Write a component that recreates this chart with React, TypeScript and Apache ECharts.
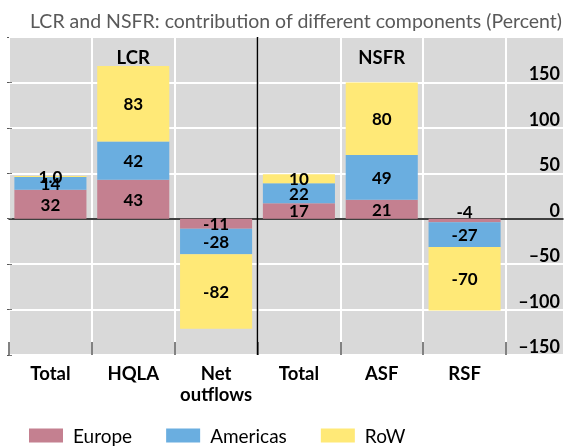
import React, { useEffect, useRef } from "react";
import * as echarts from "echarts";

const categories = ["Total", "HQLA", "Net\noutflows", "Total", "ASF", "RSF"];
const groupLabels = ["", "LCR", "", "", "NSFR", ""];
const europe = [32, 43, -11, 17, 21, -4];
const americas = [14, 42, -28, 22, 49, -27];
const rowValues = [1, 83, -82, 10, 80, -70];
const rowLabels = ["1.0", "83", "-82", "10", "80", "-70"];

const FONT = "Lato, 'Open Sans', sans-serif";
const GRID_TOP = 37;
const GRID_H = 318;

export default function App() {
  const ref = useRef<HTMLDivElement>(null);
  useEffect(() => {
    if (!ref.current) return;
    const chart = echarts.init(ref.current, undefined, { renderer: "svg" });
    const labelBase = {
      show: true,
      position: "inside",
      color: "#000",
      fontSize: 17,
      fontWeight: "bold",
      fontFamily: FONT,
    };
    const option: any = {
      animation: false,
      textStyle: { fontFamily: FONT },
      title: {
        text: "LCR and NSFR: contribution of different components (Percent)",
        left: 25,
        top: 5,
        textStyle: { fontSize: 19.5, fontWeight: "normal", color: "#595959", fontFamily: FONT },
      },
      legend: {
        left: 29,
        top: 426,
        padding: 0,
        itemWidth: 34,
        itemHeight: 14,
        itemGap: 34,
        icon: "rect",
        textStyle: { fontSize: 19, color: "#000", fontFamily: FONT, padding: [0, 0, 0, 5] },
        data: ["Europe", "Americas", "RoW"],
      },
      grid: [
        { left: 9, top: GRID_TOP, width: 497, height: GRID_H, containLabel: false },
        {
          left: 9,
          top: GRID_TOP,
          width: 554,
          height: GRID_H,
          show: true,
          backgroundColor: "#d9d9d9",
          borderWidth: 0,
          z: -1,
        },
      ],
      xAxis: [
        {
          type: "category",
          gridIndex: 0,
          data: categories,
          position: "bottom",
          axisLine: { show: false, onZero: false },
          axisTick: {
            show: true,
            inside: true,
            length: 13,
            interval: 0,
            lineStyle: { color: "#595959", width: 1.5 },
          },
          splitLine: { show: true, interval: 0, lineStyle: { color: "#ffffff", width: 2 } },
          axisLabel: {
            interval: 0,
            margin: 7,
            fontSize: 18.5,
            fontWeight: "bold",
            color: "#000",
            lineHeight: 21,
            fontFamily: FONT,
          },
        },
        {
          type: "category",
          gridIndex: 0,
          data: groupLabels,
          position: "top",
          axisLine: { show: false, onZero: false },
          axisTick: { show: false },
          splitLine: { show: false },
          axisLabel: {
            inside: true,
            interval: 0,
            margin: 10,
            fontSize: 18.5,
            fontWeight: "bold",
            color: "#000",
            fontFamily: FONT,
          },
        },
        {
          type: "value",
          gridIndex: 1,
          min: 0,
          max: 1,
          axisLine: { show: true, onZero: true, lineStyle: { color: "#000", width: 1.5 } },
          axisTick: { show: false },
          axisLabel: { show: false },
          splitLine: { show: false },
        },
      ],
      yAxis: [
        {
          type: "value",
          gridIndex: 0,
          min: -150,
          max: 200,
          interval: 50,
          position: "left",
          axisLine: { show: false },
          axisTick: { show: true, length: 2, lineStyle: { color: "#595959" } },
          axisLabel: { show: false },
          splitLine: { show: false },
        },
        {
          type: "value",
          gridIndex: 1,
          min: -150,
          max: 200,
          interval: 50,
          position: "right",
          axisLine: { show: false },
          axisTick: { show: true, length: 3, lineStyle: { color: "#777" } },
          splitLine: { show: true, lineStyle: { color: "#ffffff", width: 2 } },
          axisLabel: {
            inside: true,
            margin: 3,
            fontSize: 18,
            fontWeight: "bold",
            color: "#000",
            verticalAlign: "bottom",
            fontFamily: FONT,
            showMaxLabel: false,
            formatter: (v: number) => (v === 200 ? "" : String(v).replace("-", "\u2013")),
          },
        },
      ],
      series: [
        {
          name: "Europe",
          type: "bar",
          stack: "s",
          xAxisIndex: 0,
          yAxisIndex: 0,
          barCategoryGap: "13%",
          itemStyle: { color: "#c48090" },
          label: labelBase,
          data: europe.map((v, i) =>
            i === 5 ? { value: v, label: { offset: [0, -9] } } : v
          ),
        },
        {
          name: "Americas",
          type: "bar",
          stack: "s",
          xAxisIndex: 0,
          yAxisIndex: 0,
          barCategoryGap: "13%",
          itemStyle: { color: "#6aaee0" },
          label: labelBase,
          data: americas,
        },
        {
          name: "RoW",
          type: "bar",
          stack: "s",
          xAxisIndex: 0,
          yAxisIndex: 0,
          barCategoryGap: "13%",
          itemStyle: { color: "#ffe977" },
          label: { ...labelBase, formatter: (p: any) => rowLabels[p.dataIndex] },
          data: rowValues,
        },
      ],
    };
    chart.setOption(option);
    const a = chart.convertToPixel({ xAxisIndex: 0 }, 2) as number;
    const b = chart.convertToPixel({ xAxisIndex: 0 }, 3) as number;
    const sx = (a + b) / 2;
    chart.setOption({
      graphic: [
        {
          type: "line",
          z: 10,
          shape: { x1: sx, y1: GRID_TOP, x2: sx, y2: GRID_TOP + GRID_H },
          style: { stroke: "#000", lineWidth: 1.5 },
        },
      ],
    });
    return () => chart.dispose();
  }, []);
  return (
    <div
      ref={ref}
      style={{ position: "fixed", left: 0, top: 0, width: 572, height: 447 }}
    />
  );
}
